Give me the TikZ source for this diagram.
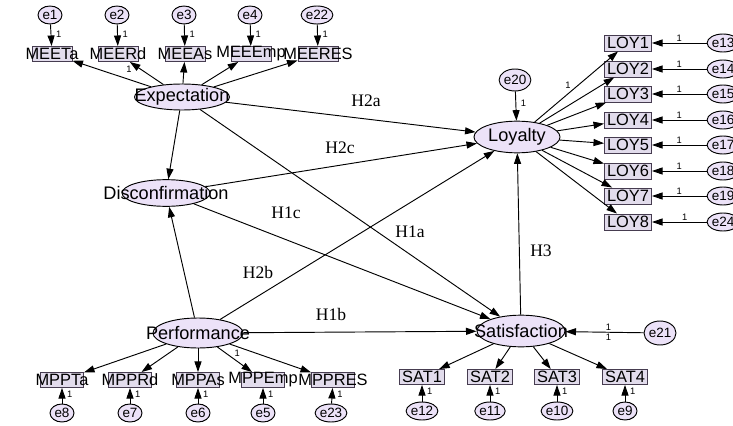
\documentclass[tikz,border=0pt]{standalone}
\usepackage{fontspec}
\setmainfont{Liberation Sans}
\newfontfamily\hypfont{Liberation Serif}
\usetikzlibrary{shapes.geometric, arrows.meta, positioning}
\definecolor{lav}{RGB}{236,226,248}
\definecolor{boxfill}{RGB}{226,220,236}
\definecolor{boxline}{RGB}{70,60,80}
\newcommand{\nw}[1]{\makebox[0pt]{#1}}
\tikzset{
    latent/.style={
        ellipse,
        draw=black,
        thick,
        fill=lav,
        inner sep=0pt,
        minimum width=2.6cm,
        minimum height=0.8cm,
        font=\fontsize{15.5}{16}\selectfont
    },
    obs/.style={
        rectangle,
        draw=boxline,
        thick,
        fill=boxfill,
        inner sep=0pt,
        minimum width=1.2cm,
        minimum height=0.45cm,
        font=\fontsize{14}{15}\selectfont
    },
    err/.style={
        ellipse,
        draw=black,
        thick,
        fill=lav,
        inner sep=0pt,
        minimum width=0.72cm,
        minimum height=0.54cm,
        font=\fontsize{11.5}{12}\selectfont
    },
    hyp/.style={
        font=\hypfont\fontsize{15}{16}\selectfont
    },
    one/.style={
        font=\fontsize{8}{9}\selectfont,
        inner sep=1pt
    },
    arr/.style={
        thick,
        -{Triangle[length=9pt,width=6pt]}
    },
}
\begin{document}
\begin{tikzpicture}[x=0.03cm, y=-0.03cm]
\useasboundingbox (0,0) rectangle (733,426);

% Latent variables
\node[latent, minimum width=2.85cm, minimum height=0.78cm] (expect) at (182,97) {\nw{Expectation}};
\node[latent, minimum width=2.64cm, minimum height=0.8cm] (disconf) at (166,193) {\nw{Disconfirmation}};
\node[latent, minimum width=2.7cm, minimum height=0.9cm] (perform) at (198,333) {\nw{Performance}};
\node[latent, minimum width=2.58cm, minimum height=0.95cm] (loyal) at (517,137) {Loyalty};
\node[latent, minimum width=2.64cm, minimum height=0.95cm] (satis) at (521,331) {\nw{Satisfaction}};
\node[err, minimum width=0.84cm, minimum height=0.66cm] (e20) at (515,80) {e20};
\node[err, minimum width=0.96cm, minimum height=0.72cm] (e21) at (660,333) {e21};

% Expectation indicators
\node[obs] (mee1) at (52,54) {\nw{MEETa}};
\node[obs] (mee2) at (118,54) {\nw{MEERd}};
\node[obs] (mee3) at (185,54) {\nw{MEEAs}};
\node[obs] (mee4) at (251,54) {\nw{MEEEmp}};
\node[obs] (mee5) at (318,54) {\nw{MEERES}};
\node[err] (e1) at (50,15) {e1};
\node[err] (e2) at (117,15) {e2};
\node[err] (e3) at (184,15) {e3};
\node[err] (e4) at (250,15) {e4};
\node[err] (e22) at (317,15) {e22};

% Performance indicators
\node[obs, minimum width=1.29cm] (mpp1) at (62,380) {\nw{MPPTa}};
\node[obs, minimum width=1.29cm] (mpp2) at (130,380) {\nw{MPPRd}};
\node[obs, minimum width=1.29cm] (mpp3) at (198,380) {\nw{MPPAs}};
\node[obs, minimum width=1.29cm] (mpp4) at (263,380) {\nw{MPPEmp}};
\node[obs, minimum width=1.29cm] (mpp5) at (333,380) {\nw{MPPRES}};
\node[err] (e8) at (62,413) {e8};
\node[err] (e7) at (130,413) {e7};
\node[err] (e6) at (198,413) {e6};
\node[err] (e5) at (263,413) {e5};
\node[err] (e23) at (331,413) {e23};

% Satisfaction indicators
\node[obs, minimum width=1.35cm] (sat1) at (422,377) {SAT1};
\node[obs, minimum width=1.35cm] (sat2) at (490,377) {SAT2};
\node[obs, minimum width=1.35cm] (sat3) at (557,377) {SAT3};
\node[obs, minimum width=1.35cm] (sat4) at (625,377) {SAT4};
\node[err] (e12) at (422,411) {e12};
\node[err] (e11) at (490,411) {e11};
\node[err] (e10) at (557,411) {e10};
\node[err] (e9) at (625,411) {e9};

% Loyalty indicators
\node[obs, minimum width=1.41cm, minimum height=0.48cm] (loy1) at (628,43) {LOY1};
\node[obs, minimum width=1.41cm, minimum height=0.48cm] (loy2) at (628,69) {LOY2};
\node[obs, minimum width=1.41cm, minimum height=0.48cm] (loy3) at (628,94) {LOY3};
\node[obs, minimum width=1.41cm, minimum height=0.48cm] (loy4) at (628,120) {LOY4};
\node[obs, minimum width=1.41cm, minimum height=0.48cm] (loy5) at (628,145) {LOY5};
\node[obs, minimum width=1.41cm, minimum height=0.48cm] (loy6) at (628,171) {LOY6};
\node[obs, minimum width=1.41cm, minimum height=0.48cm] (loy7) at (628,196) {LOY7};
\node[obs, minimum width=1.41cm, minimum height=0.48cm] (loy8) at (628,222) {LOY8};
\node[err, minimum width=0.9cm] (e13) at (723,43) {e13};
\node[err, minimum width=0.9cm] (e14) at (723,69) {e14};
\node[err, minimum width=0.9cm] (e15) at (723,94) {e15};
\node[err, minimum width=0.9cm] (e16) at (723,120) {e16};
\node[err, minimum width=0.9cm] (e17) at (723,145) {e17};
\node[err, minimum width=0.9cm] (e18) at (723,171) {e18};
\node[err, minimum width=0.9cm] (e19) at (723,196) {e19};
\node[err, minimum width=0.9cm] (e24) at (723,222) {e24};

% Hypothesis labels
\node[hyp] (h2a) at (366,101) {H2a};
\node[hyp] (h2c) at (340,148) {H2c};
\node[hyp] (h1c) at (286,213) {H1c};
\node[hyp] (h1a) at (410,232) {H1a};
\node[hyp] (h2b) at (258,272) {H2b};
\node[hyp] (h3) at (541,251) {H3};
\node[hyp] (h1b) at (331,314) {H1b};

% Structural paths
\draw[arr] (expect) -- (disconf);
\draw[arr] (expect) -- (loyal);
\draw[arr] (expect) -- (satis);
\draw[arr] (disconf) -- (loyal);
\draw[arr] (disconf) -- (satis);
\draw[arr] (perform) -- (disconf);
\draw[arr] (perform) -- (loyal);
\draw[arr] (perform) -- (satis);
\draw[arr] (satis) -- (loyal);
\draw[arr] (e20) -- node[one, right=3pt, pos=0.4] {1} (loyal);
\draw[arr] (e21) -- node[one, above, pos=0.45] {1} node[one, below, pos=0.45] {1} (satis);

% Expectation loadings
\draw[arr] (expect) -- (mee1);
\draw[arr] (expect) -- node[one, below left, pos=0.9] {1} (mee2);
\draw[arr] (expect) -- (mee3);
\draw[arr] (expect) -- (mee4);
\draw[arr] (expect) -- (mee5);
\draw[arr] (e1) -- node[one, right=3pt, pos=0.45] {1} (mee1);
\draw[arr] (e2) -- node[one, right=3pt, pos=0.45] {1} (mee2);
\draw[arr] (e3) -- node[one, right=3pt, pos=0.45] {1} (mee3);
\draw[arr] (e4) -- node[one, right=3pt, pos=0.45] {1} (mee4);
\draw[arr] (e22) -- node[one, right=3pt, pos=0.45] {1} (mee5);

% Performance loadings
\draw[arr] (perform) -- (mpp1);
\draw[arr] (perform) -- (mpp2);
\draw[arr] (perform) -- (mpp3);
\draw[arr] (perform) -- node[one, above right, pos=0.45] {1} (mpp4);
\draw[arr] (perform) -- (mpp5);
\draw[arr] (e8) -- node[one, right=3pt, pos=0.6] {1} (mpp1);
\draw[arr] (e7) -- node[one, right=3pt, pos=0.6] {1} (mpp2);
\draw[arr] (e6) -- node[one, right=3pt, pos=0.6] {1} (mpp3);
\draw[arr] (e5) -- node[one, right=3pt, pos=0.6] {1} (mpp4);
\draw[arr] (e23) -- node[one, right=3pt, pos=0.6] {1} (mpp5);

% Satisfaction loadings
\draw[arr] (satis) -- (sat1);
\draw[arr] (satis) -- (sat2);
\draw[arr] (satis) -- (sat3);
\draw[arr] (satis) -- (sat4);
\draw[arr] (e12) -- node[one, right=3pt, pos=0.6] {1} (sat1);
\draw[arr] (e11) -- node[one, right=3pt, pos=0.6] {1} (sat2);
\draw[arr] (e10) -- node[one, right=3pt, pos=0.6] {1} (sat3);
\draw[arr] (e9) -- node[one, right=3pt, pos=0.6] {1} (sat4);

% Loyalty loadings
\draw[arr] (loyal) -- node[one, above left, pos=0.45] {1} (loy1);
\draw[arr] (loyal) -- (loy2);
\draw[arr] (loyal) -- (loy3);
\draw[arr] (loyal) -- (loy4);
\draw[arr] (loyal) -- (loy5);
\draw[arr] (loyal) -- (loy6);
\draw[arr] (loyal) -- (loy7);
\draw[arr] (loyal) -- (loy8);
\draw[arr] (e13) -- node[one, above, pos=0.5] {1} (loy1);
\draw[arr] (e14) -- node[one, above, pos=0.5] {1} (loy2);
\draw[arr] (e15) -- node[one, above, pos=0.5] {1} (loy3);
\draw[arr] (e16) -- node[one, above, pos=0.5] {1} (loy4);
\draw[arr] (e17) -- node[one, above, pos=0.5] {1} (loy5);
\draw[arr] (e18) -- node[one, above, pos=0.5] {1} (loy6);
\draw[arr] (e19) -- node[one, above, pos=0.5] {1} (loy7);
\draw[arr] (e24) -- node[one, above, pos=0.4] {1} (loy8);

\end{tikzpicture}
\end{document}
